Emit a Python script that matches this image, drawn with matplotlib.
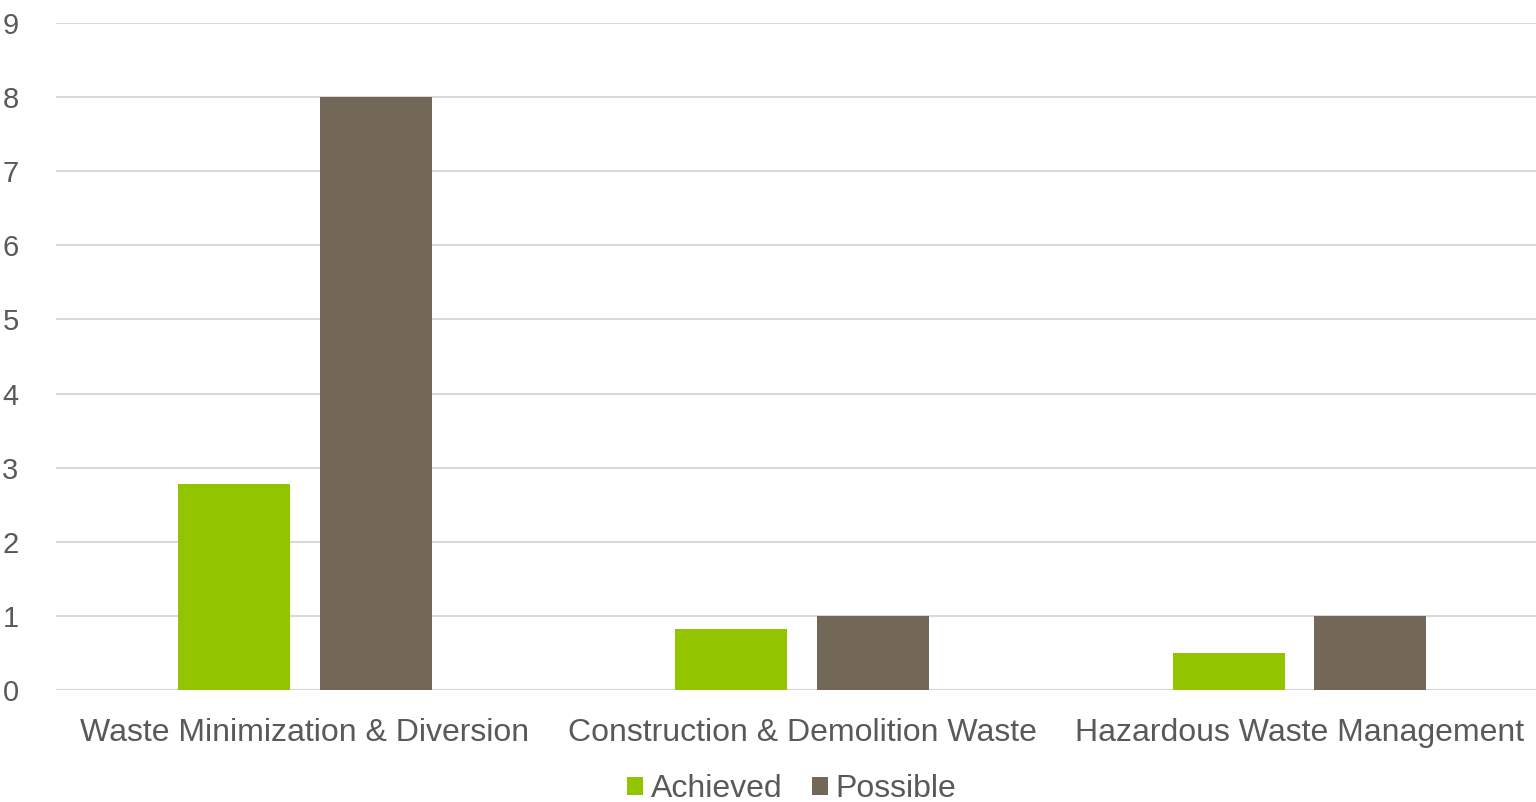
import numpy as np
import matplotlib.pyplot as plt

categories = ['Waste Minimization & Diversion', 'Construction & Demolition Waste', 'Hazardous Waste Management']
achieved = [2.78, 0.82, 0.5]
possible = [8, 1, 1]

plt.rcParams['font.family'] = ['Liberation Sans', 'DejaVu Sans']

fig = plt.figure(figsize=(15.36, 8.02), dpi=100)
# axes run slightly past the right edge, as in the original
ax = fig.add_axes([0.0365, 0.1397, 0.9714, 0.8316])

x = np.arange(len(categories))
w = 0.225
ax.bar(x - 0.1425, achieved, w, color='#92c500', label='Achieved', zorder=3)
ax.bar(x + 0.1425, possible, w, color='#736857', label='Possible', zorder=3)

ax.set_xlim(-0.5, 2.5)
ax.set_ylim(0, 9)
ax.set_yticks(range(0, 10))
ax.set_xticks(x)
ax.set_xticklabels(categories)
ax.grid(axis='y', color='#d9d9d9', linewidth=1.5, zorder=0)
ax.tick_params(length=0, labelcolor='#595959')
ax.tick_params(axis='x', pad=20, labelsize=23)
ax.tick_params(axis='y', pad=27, labelsize=21)
for s in ax.spines.values():
    s.set_visible(False)
ax.axhline(0, color='#d9d9d9', linewidth=1.5, zorder=1)

leg = ax.legend(loc='center', bbox_to_anchor=(0.493, -0.1485), ncol=2, frameon=False,
                fontsize=23, handlelength=0.5, handleheight=0.5, handletextpad=0.25,
                columnspacing=0.92, labelcolor='#595959', borderpad=0.2)

fig.savefig('out.png')
